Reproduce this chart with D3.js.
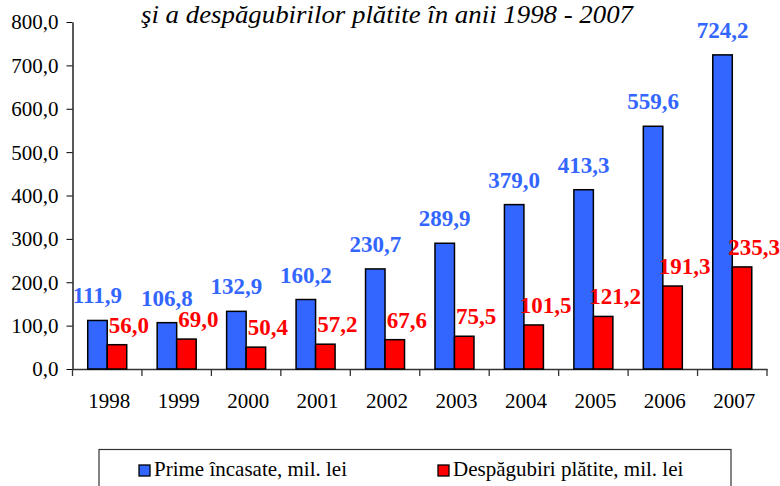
<!DOCTYPE html>
<html>
<head>
<meta charset="utf-8">
<script src="https://cdn.jsdelivr.net/npm/d3@7"></script>
<style>
  body { margin: 0; background: #fff; }
  svg { display: block; }
  svg text { font-family: "Liberation Serif", "Times New Roman", serif; }
</style>
</head>
<body>
<svg id="chart" width="780" height="486"></svg>
<script>
/* data */
var years = ["1998", "1999", "2000", "2001", "2002", "2003", "2004", "2005", "2006", "2007"];
var prime = [111.9, 106.8, 132.9, 160.2, 230.7, 289.9, 379.0, 413.3, 559.6, 724.2];
var despagubiri = [56.0, 69.0, 50.4, 57.2, 67.6, 75.5, 101.5, 121.2, 191.3, 235.3];
var yTicks = [0, 100, 200, 300, 400, 500, 600, 700, 800];
var seriesNames = ["Prime încasate, mil. lei", "Despăgubiri plătite, mil. lei"];
var titleText = "şi a despăgubirilor plătite în anii 1998 - 2007";

var serif = "'Liberation Serif', 'Times New Roman', serif";
var blue = "#3366ff", red = "#ff0000";
var svg = d3.select("#chart");

// comma decimal like the original
var fmt = function(v) { return v.toFixed(1).replace(".", ","); };

var x = d3.scaleBand().domain(years).range([72.5, 767]).padding(0);
var y = d3.scaleLinear().domain([0, 800]).range([369, 22]);

var barW = 19.5;
var groupOff = (x.bandwidth() - 2 * barW) / 2;

// title
svg.append("text")
  .attr("x", 387).attr("y", 23)
  .attr("text-anchor", "middle")
  .style("font-family", serif)
  .style("font-size", "25px").style("font-style", "italic")
  .attr("textLength", 492).attr("lengthAdjust", "spacingAndGlyphs")
  .text(titleText);

// y axis
var yAxis = svg.append("g")
  .attr("transform", "translate(72.5,0)")
  .call(d3.axisLeft(y).tickValues(yTicks).tickSize(6).tickSizeOuter(0).tickFormat(fmt));
yAxis.select(".domain").attr("stroke", "#000").attr("stroke-width", 1.3);
yAxis.selectAll(".tick line").attr("stroke", "#000");
yAxis.selectAll(".tick text")
  .style("font-family", serif)
  .style("font-size", "21px").attr("fill", "#000")
  .attr("x", -14).attr("dy", "0.33em");

// x axis
var xAxis = svg.append("g")
  .attr("transform", "translate(0," + y(0) + ")")
  .call(d3.axisBottom(x).tickSize(0).tickSizeOuter(0));
xAxis.select(".domain").attr("stroke", "#333").attr("stroke-width", 1.3);
xAxis.selectAll(".tick text")
  .style("font-family", serif)
  .style("font-size", "21px").attr("fill", "#000")
  .attr("x", 2).attr("y", 24).attr("dy", "0.71em");
xAxis.selectAll(".bound")
  .data(years.concat(["end"]))
  .enter().append("line")
  .attr("x1", function(d, i) { return i < years.length ? x(d) : x.range()[1]; })
  .attr("x2", function(d, i) { return i < years.length ? x(d) : x.range()[1]; })
  .attr("y1", 0).attr("y2", 7)
  .attr("stroke", "#333").attr("stroke-width", 1.3);

// bars
var g = svg.append("g");
g.selectAll(".prime").data(prime).enter().append("rect")
  .attr("x", function(d, i) { return x(years[i]) + groupOff; })
  .attr("y", function(d) { return y(d); })
  .attr("width", barW)
  .attr("height", function(d) { return y(0) - y(d); })
  .attr("fill", blue).attr("stroke", "#000").attr("stroke-width", 1.5);

g.selectAll(".desp").data(despagubiri).enter().append("rect")
  .attr("x", function(d, i) { return x(years[i]) + groupOff + barW; })
  .attr("y", function(d) { return y(d); })
  .attr("width", barW)
  .attr("height", function(d) { return y(0) - y(d); })
  .attr("fill", red).attr("stroke", "#000").attr("stroke-width", 1.5);

// value labels
g.selectAll(".lp").data(prime).enter().append("text")
  .attr("x", function(d, i) { return x(years[i]) + groupOff + barW / 2; })
  .attr("y", function(d) { return y(d) - 17; })
  .attr("text-anchor", "middle")
  .style("font-family", serif)
  .style("font-size", "23px").style("font-weight", "bold")
  .attr("fill", blue)
  .text(fmt);

g.selectAll(".ld").data(despagubiri).enter().append("text")
  .attr("x", function(d, i) { return x(years[i]) + groupOff + barW * 1.5 + 12; })
  .attr("y", function(d) { return y(d) - 12; })
  .attr("text-anchor", "middle")
  .style("font-family", serif)
  .style("font-size", "23px").style("font-weight", "bold")
  .attr("fill", red)
  .text(fmt);

// legend (cut at bottom edge)
var leg = svg.append("g");
leg.append("rect")
  .attr("x", 99).attr("y", 449.5).attr("width", 632).attr("height", 60)
  .attr("fill", "#fff").attr("stroke", "#333").attr("stroke-width", 1.2);
var legX = [139, 438];
var legC = [blue, red];
seriesNames.forEach(function(name, i) {
  leg.append("rect")
    .attr("x", legX[i]).attr("y", 465).attr("width", 11).attr("height", 11)
    .attr("fill", legC[i]).attr("stroke", "#000").attr("stroke-width", 1.3);
  leg.append("text")
    .attr("x", legX[i] + 15).attr("y", 476)
    .style("font-family", serif)
    .style("font-size", "21px").attr("fill", "#000")
    .text(name);
});
</script>
</body>
</html>
